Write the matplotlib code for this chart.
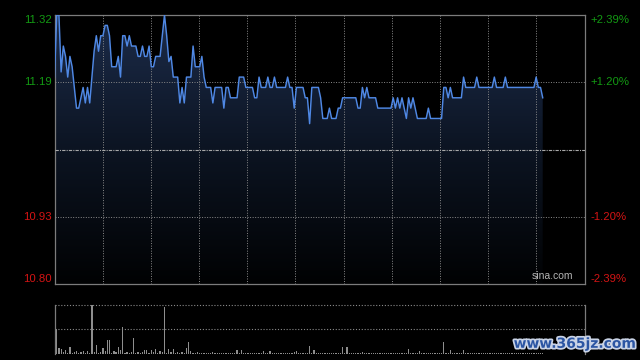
import numpy as np
import matplotlib
matplotlib.use("Agg")
import matplotlib.pyplot as plt
import matplotlib.patheffects as pe
from matplotlib.colors import LinearSegmentedColormap
from matplotlib.transforms import blended_transform_factory

plt.rcParams['font.family'] = ['Liberation Sans', 'DejaVu Sans']

# intraday minute prices (242 slots in a full session, data up to ~14:41)
price = [
    11.20, 11.32, 11.32, 11.21, 11.26, 11.24, 11.20, 11.24, 11.22, 11.18,
    11.14, 11.14, 11.16, 11.18, 11.15, 11.18, 11.15, 11.20, 11.25, 11.28,
    11.25, 11.28, 11.28, 11.30, 11.30, 11.28, 11.22, 11.22, 11.22, 11.24,
    11.20, 11.28, 11.28, 11.26, 11.28, 11.26, 11.26, 11.26, 11.24, 11.24,
    11.26, 11.24, 11.24, 11.26, 11.22, 11.22, 11.24, 11.24, 11.24, 11.28,
    11.32, 11.28, 11.23, 11.24, 11.20, 11.20, 11.20, 11.15, 11.18, 11.15,
    11.20, 11.20, 11.20, 11.26, 11.22, 11.22, 11.22, 11.24, 11.20, 11.18,
    11.18, 11.18, 11.15, 11.18, 11.18, 11.18, 11.18, 11.14, 11.18, 11.18,
    11.16, 11.16, 11.16, 11.16, 11.20, 11.20, 11.20, 11.18, 11.18, 11.18,
    11.18, 11.16, 11.16, 11.20, 11.18, 11.18, 11.18, 11.20, 11.18, 11.18,
    11.20, 11.18, 11.18, 11.18, 11.18, 11.18, 11.20, 11.18, 11.18, 11.14,
    11.18, 11.18, 11.18, 11.18, 11.16, 11.16, 11.11, 11.18, 11.18, 11.18,
    11.18, 11.16, 11.12, 11.12, 11.12, 11.14, 11.12, 11.12, 11.12, 11.14,
    11.14, 11.16, 11.16, 11.16, 11.16, 11.16, 11.16, 11.16, 11.14, 11.14,
    11.18, 11.16, 11.18, 11.16, 11.16, 11.16, 11.16, 11.14, 11.14, 11.14,
    11.14, 11.14, 11.14, 11.14, 11.16, 11.14, 11.16, 11.14, 11.16, 11.14,
    11.12, 11.16, 11.14, 11.16, 11.14, 11.12, 11.12, 11.12, 11.12, 11.12,
    11.14, 11.12, 11.12, 11.12, 11.12, 11.12, 11.12, 11.18, 11.18, 11.16,
    11.18, 11.16, 11.16, 11.16, 11.16, 11.16, 11.20, 11.18, 11.18, 11.18,
    11.18, 11.18, 11.20, 11.18, 11.18, 11.18, 11.18, 11.18, 11.18, 11.18,
    11.20, 11.18, 11.18, 11.18, 11.18, 11.20, 11.18, 11.18, 11.18, 11.18,
    11.18, 11.18, 11.18, 11.18, 11.18, 11.18, 11.18, 11.18, 11.18, 11.20,
    11.18, 11.18, 11.16,
]

# relative minute volume (100 = panel top)
volume = [
    57, 50, 12, 10, 5, 8, 3, 15, 3, 4,
    6, 2, 4, 6, 3, 7, 3, 99, 4, 18,
    3, 4, 12, 6, 28, 28, 3, 6, 4, 14,
    8, 55, 3, 5, 3, 4, 32, 3, 4, 3,
    5, 8, 9, 3, 8, 4, 10, 3, 6, 4,
    96, 3, 11, 4, 11, 3, 4, 2, 4, 3,
    12, 25, 6, 3, 2, 4, 3, 2, 3, 2,
    3, 2, 4, 2, 3, 2, 3, 2, 2, 3,
    2, 3, 2, 8, 2, 8, 3, 2, 2, 3,
    2, 2, 3, 2, 2, 6, 2, 3, 6, 2,
    2, 3, 2, 2, 3, 2, 2, 3, 2, 4,
    6, 2, 3, 2, 2, 3, 16, 2, 8, 2,
    3, 2, 3, 2, 2, 3, 2, 2, 3, 2,
    3, 15, 2, 14, 3, 2, 2, 3, 2, 2,
    4, 2, 3, 2, 2, 3, 2, 2, 2, 3,
    2, 2, 3, 2, 2, 2, 3, 2, 2, 3,
    2, 10, 2, 3, 2, 2, 6, 2, 2, 3,
    2, 2, 3, 2, 2, 2, 3, 25, 3, 2,
    8, 2, 3, 2, 2, 3, 9, 2, 3, 2,
    2, 2, 3, 2, 2, 2, 3, 2, 2, 2,
    3, 2, 2, 2, 3, 2, 2, 2, 2, 3,
    2, 2, 2, 3, 2, 2, 2, 2, 3, 2,
    2, 2, 3,
]

prev_close = 11.06
y_low, y_high = 10.80, 11.32
left_values = [11.32, 11.19, 10.93, 10.80]
left_labels = ["11.32", "11.19", "10.93", "10.80"]
right_labels = ["+2.39%", "+1.20%", "-1.20%", "-2.39%"]
session_len = 242

GREEN = "#139a13"
RED = "#d41414"
BORDER = "#7c7c7c"
GRID = "#8a8a8a"

fig = plt.figure(figsize=(6.4, 3.6), dpi=100, facecolor="black")
ax = fig.add_axes([0.0852, 0.2111, 0.8281, 0.7472])
vax = fig.add_axes([0.0852, 0.0167, 0.8281, 0.1369])

x = np.arange(len(price))
p = np.array(price)

# gradient fill under the price line
cmap = LinearSegmentedColormap.from_list("fill", ["#010203", "#0c1422", "#1c2c4a"])
grad = np.linspace(0, 1, 256).reshape(-1, 1)
im = ax.imshow(grad, extent=[0, len(price) - 1, y_low, y_high], origin="lower",
               aspect="auto", cmap=cmap, zorder=1)
poly = ax.fill_between(x, p, y_low, color="none", lw=0)
im.set_clip_path(poly.get_paths()[0], transform=ax.transData)

ax.plot(x, p, color="#4f88e4", lw=1.05, zorder=4)

ax.set_facecolor("black")
ax.set_xlim(0, session_len - 1)
ax.set_ylim(y_low, y_high)
ax.set_xticks([])
ax.set_yticks([])
for s in ax.spines.values():
    s.set_color(BORDER)
    s.set_linewidth(0.9)

step = (session_len - 1) / 11
for k in range(1, 11):
    ax.axvline(k * step, color=GRID, ls=(0, (1, 1.6)), lw=0.7, zorder=3)
for v in (left_values[1], left_values[2]):
    ax.axhline(v, color=GRID, ls=(0, (1, 1.6)), lw=0.7, zorder=3)
ax.axhline(prev_close, color="#a8a8a8", ls=(0, (3, 1, 1, 1)), lw=0.8, zorder=3)

# axis labels
tl = blended_transform_factory(ax.transAxes, ax.transData)
for i, (v, lab, rlab) in enumerate(zip(left_values, left_labels, right_labels)):
    col = GREEN if v > prev_close else RED
    va = "top" if i == 0 else ("bottom" if i == 3 else "center")
    ax.text(-0.006, v, lab, transform=tl, ha="right", va=va, color=col, fontsize=8.2)
    ax.text(1.011, v, rlab, transform=tl, ha="left", va=va, color=col, fontsize=8.2)

ax.text(0.978, 0.01, "sina.com", transform=ax.transAxes, ha="right", va="bottom",
        color="#b4b4b4", fontsize=7.5, zorder=5)

# volume panel
vax.set_facecolor("black")
vax.bar(np.arange(len(volume)), volume, width=0.55, color="#8e8e8e", lw=0)
vax.set_xlim(0, session_len - 1)
vax.set_ylim(0, 100)
vax.set_xticks([])
vax.set_yticks([])
for side in ("top", "bottom"):
    vax.spines[side].set_visible(False)
for side in ("left", "right"):
    vax.spines[side].set_color(BORDER)
    vax.spines[side].set_linewidth(0.9)
vax.axhline(100, color=GRID, ls=(0, (1, 1.6)), lw=0.8, clip_on=False)
vax.axhline(50, color=GRID, ls=(0, (1, 1.6)), lw=0.8)

fig.text(0.898, 0.045, "www.365jz.com", ha="center", va="center", color="#2b55a3",
         fontsize=10, fontweight="bold", family="DejaVu Sans",
         path_effects=[pe.withStroke(linewidth=2.5, foreground="#c9d3e6")])

fig.savefig("out.png", dpi=100, facecolor="black")
